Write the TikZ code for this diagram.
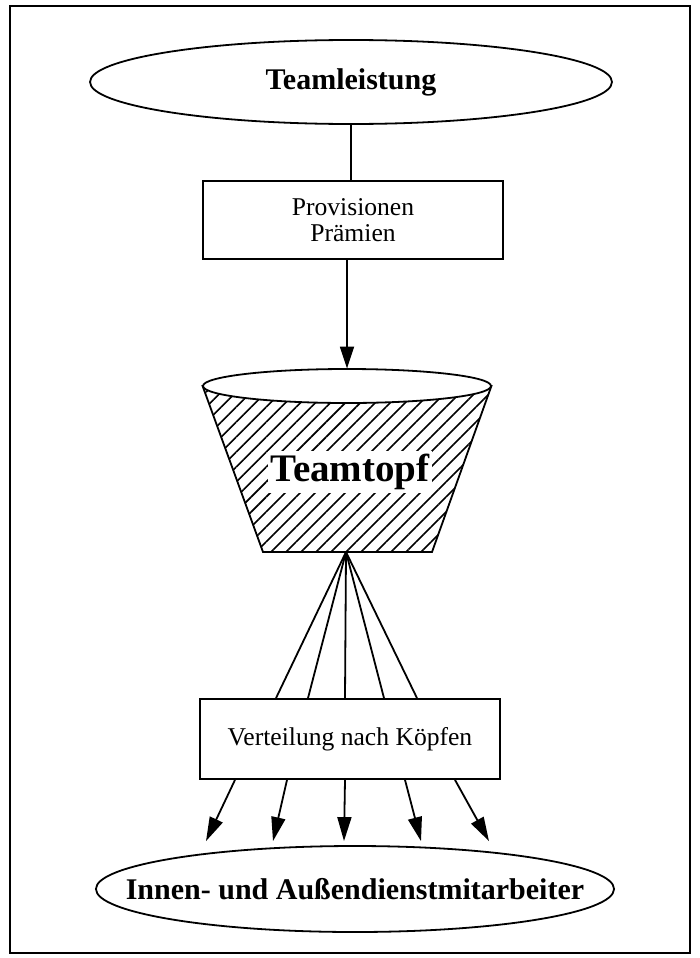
\documentclass[tikz,border=0pt]{standalone}
\usepackage{fontspec}
\setmainfont{Liberation Serif}
\usetikzlibrary{shapes.geometric,arrows.meta,patterns.meta}

\tikzset{
  kasten/.style={draw, rectangle, line width=0.9pt, align=center,
    minimum width=150pt, minimum height=40pt, font=\fontsize{12.8}{13}\selectfont},
  oval/.style={draw, ellipse, line width=0.9pt, inner sep=0pt,
    font=\fontsize{15}{18}\selectfont\bfseries},
  pfeil/.style={line width=0.9pt, -{Triangle[length=11pt,width=7pt]}},
  schraffur/.style={pattern={Lines[angle=45,distance=5.3pt,line width=0.8pt]}},
}

\begin{document}
\begin{tikzpicture}[x=0.5pt,y=-0.5pt]
\useasboundingbox (0,0) rectangle (700,958);
\coordinate (R1) at (10,6);
\coordinate (R2) at (690,953);
\coordinate (bodenL) at (263,552);
\coordinate (bodenR) at (432,552);
\coordinate (spitze) at (346,552);

% Rahmen
\draw[line width=1.2pt] (R1) rectangle (R2);

\node[oval, minimum width=261pt, minimum height=42pt] (leistung) at (351,82) {Teamleistung};
\node[kasten, minimum height=39pt] (praemien) at (353,220) {Provisionen\\Prämien};

% Topf
\node[ellipse, inner sep=0pt, minimum width=144pt, minimum height=17pt] (rand) at (347,386) {};
\draw[line width=0.9pt, schraffur] (rand.west) -- (bodenL) -- (bodenR) -- (rand.east) -- cycle;
\draw[line width=0.9pt, fill=white] (rand.center) ellipse [x radius=144, y radius=17];
\node[fill=white, inner sep=1.5pt, font=\fontsize{19.5}{22}\selectfont\bfseries] (topf) at (350,472) {Teamtopf};

\node[kasten] (verteilung) at (350,739) {Verteilung nach Köpfen};
\node[oval, inner xsep=-23pt, minimum width=259pt, minimum height=43pt] (mitarbeiter) at (355,889) {Innen- und Außendienstmitarbeiter};

\draw[line width=0.9pt] (leistung.south) -- (leistung.south |- praemien.north);
\draw[pfeil] (rand.north |- praemien.south) -- (rand.north);

\foreach \dx in {-37,-21,-2.5,17,33.5}
  \draw[line width=0.9pt] (spitze) -- ([xshift=\dx pt]verteilung.north);

\foreach \a/\b in {-57.5/-74.5,-31.5/-41,-2.5/-5.5,27.5/33,52.5/67}
  \draw[pfeil, -{Triangle[length=12pt,width=7pt]}] ([xshift=\a pt]verteilung.south) -- ([xshift=\b pt, yshift=2pt]mitarbeiter.north);
% \node[below right] at (spitze) {S};
\end{tikzpicture}
\end{document}
